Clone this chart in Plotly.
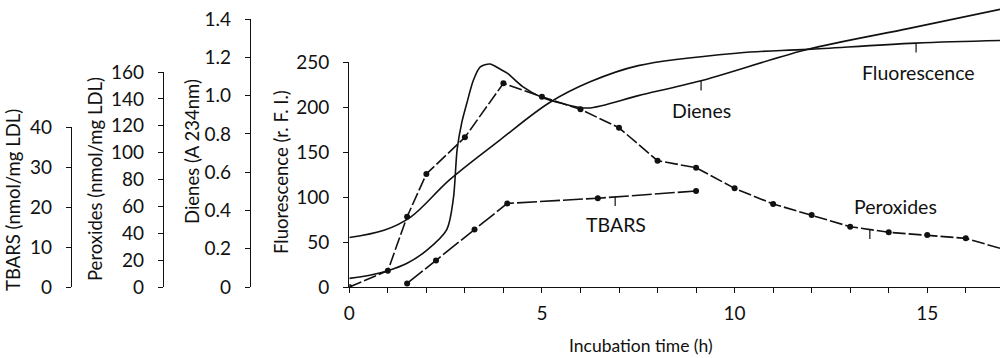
import plotly.graph_objects as go

# ---------------- data ----------------
fluor_time = [0, 0.9, 1.6, 2.6, 3.9, 5.2, 6.25, 7.5, 10.1, 11.9, 14.7, 17.0]
fluor_value = [55, 63, 78, 119, 163, 205, 228, 246, 260, 264, 271, 274]

dienes_time = [0, 0.5, 1.0, 1.5, 2.0, 2.53, 2.7, 2.8, 2.92, 3.05, 3.22, 3.4, 3.65,
               3.9, 4.1, 4.5, 5.0, 5.5, 6.2, 7.5, 9.1, 11.9, 14.5, 17.0]
dienes_value = [0.045, 0.06, 0.085, 0.124, 0.19, 0.30, 0.46, 0.72, 0.86, 0.96, 1.08,
                1.15, 1.165, 1.14, 1.117, 1.047, 0.99, 0.96, 0.935, 1.0, 1.076, 1.242,
                1.35, 1.455]

perox_time = [0, 1, 1.5, 2, 3, 4, 5, 6, 7, 8, 9, 10, 11, 12, 13, 14, 15, 16, 17]
perox_value = [0, 12.1, 52.3, 84.1, 111.4, 151.6, 141.6, 132.2, 118.5, 94.0, 88.8,
               73.4, 61.8, 53.6, 44.9, 40.7, 38.7, 36.2, 27.9]

tbars_time = [1.5, 2.25, 3.25, 4.1, 6.45, 9.0]
tbars_value = [0.9, 6.6, 14.4, 20.9, 22.2, 24.0]

x_ticks = list(range(0, 17))
x_labels = [str(v) if v % 5 == 0 else "" for v in x_ticks]
fluor_ticks = [0, 50, 100, 150, 200, 250]
dienes_ticks = [0, 0.2, 0.4, 0.6, 0.8, 1.0, 1.2, 1.4]
dienes_labels = ["0", "0.2", "0.4", "0.6", "0.8", "1.0", "1.2", "1.4"]
perox_ticks = [0, 20, 40, 60, 80, 100, 120, 140, 160]
tbars_ticks = [0, 10, 20, 30, 40]

# ---------------- layout geometry (pixels) ----------------
W, H = 1000, 358
X0_PX, PX_PER_H, BASE_PX = 349.3, 38.53, 287.0
FL_PPU, DI_PPU, PE_PPU, TB_PPU = 0.9, 191.4, 1.34375, 4.0


def ypap(p):
    return 1 - p / H


y0 = ypap(BASE_PX)
FONT = "Lato"
BLACK = "#111111"

common_axis = dict(showline=True, linecolor=BLACK, linewidth=1.4, ticks="outside",
                   ticklen=5, tickwidth=1.3, tickcolor=BLACK, showgrid=False,
                   zeroline=False, tickfont=dict(family=FONT, size=19, color=BLACK),
                   ticklabelstandoff=10, fixedrange=True, automargin=False)

fig = go.Figure()

# invisible companions so the display axes exist
fig.add_trace(go.Scatter(x=fluor_time, y=fluor_value, xaxis="x", yaxis="y", mode="lines",
                         opacity=0, hoverinfo="skip", showlegend=False))
fig.add_trace(go.Scatter(x=dienes_time, y=dienes_value, xaxis="x", yaxis="y2", mode="lines",
                         opacity=0, hoverinfo="skip", showlegend=False))

line_style = dict(color=BLACK, width=1.6)
fig.add_trace(go.Scatter(x=fluor_time, y=fluor_value, xaxis="x", yaxis="y5", mode="lines",
                         line=dict(shape="spline", smoothing=1.0, **line_style),
                         showlegend=False, name="Fluorescence"))
fig.add_trace(go.Scatter(x=dienes_time, y=dienes_value, xaxis="x", yaxis="y6", mode="lines",
                         line=dict(shape="spline", smoothing=0.8, **line_style),
                         showlegend=False, name="Dienes"))
fig.add_trace(go.Scatter(x=perox_time, y=perox_value, xaxis="x", yaxis="y3",
                         mode="lines+markers",
                         line=dict(dash="13px,3px", **line_style),
                         marker=dict(size=6, color=BLACK),
                         showlegend=False, name="Peroxides"))
fig.add_trace(go.Scatter(x=tbars_time, y=tbars_value, xaxis="x", yaxis="y4",
                         mode="lines+markers",
                         line=dict(dash="20px,3px", **line_style),
                         marker=dict(size=6, color=BLACK),
                         showlegend=False, name="TBARS"))

x_range = [0, (W - X0_PX) / PX_PER_H]

fig.update_layout(
    template="none",
    width=W, height=H, autosize=False,
    margin=dict(l=0, r=0, t=0, b=0, pad=0),
    paper_bgcolor="white", plot_bgcolor="rgba(0,0,0,0)",
    font=dict(family=FONT, color=BLACK),
    xaxis=dict(domain=[X0_PX / W, 1], range=x_range, anchor="y",
               tickvals=x_ticks, ticktext=x_labels, **{**common_axis, "ticklabelstandoff": 4}),
    yaxis=dict(domain=[y0, ypap(BASE_PX - 250 * FL_PPU)], range=[0, 250], anchor="x",
               tickvals=fluor_ticks, **common_axis),
    yaxis2=dict(domain=[y0, ypap(BASE_PX - 1.4 * DI_PPU)], range=[0, 1.4], anchor="free",
                position=250 / W, tickvals=dienes_ticks, ticktext=dienes_labels, **common_axis),
    yaxis3=dict(domain=[y0, ypap(BASE_PX - 160 * PE_PPU)], range=[0, 160], anchor="free",
                position=163 / W, tickvals=perox_ticks, **common_axis),
    yaxis4=dict(domain=[y0, ypap(BASE_PX - 40 * TB_PPU)], range=[0, 40], anchor="free",
                position=71 / W, tickvals=tbars_ticks, **common_axis),
    yaxis5=dict(domain=[y0, 1], range=[0, BASE_PX / FL_PPU], anchor="x", visible=False,
                fixedrange=True, automargin=False),
    yaxis6=dict(range=[0, BASE_PX / DI_PPU], overlaying="y5", anchor="x", visible=False,
                fixedrange=True, automargin=False),
)

TITLE_FONT = dict(family=FONT, size=18.5, color=BLACK)
axis_titles = [
    ("TBARS (nmol/mg LDL)", 13, 200),
    ("Peroxides (nmol/mg LDL)", 95, 179),
    ("Dienes (A 234nm)", 192, 152),
    ("Fluorescence (r. F. I.)", 281, 172),
]
for text, cx, cy in axis_titles:
    fig.add_annotation(text=text, x=cx / W, y=ypap(cy), xref="paper", yref="paper",
                       textangle=-90, showarrow=False, xanchor="center", yanchor="middle",
                       font=TITLE_FONT)

fig.add_annotation(text="Incubation time (h)", x=641 / W, y=ypap(345), xref="paper",
                   yref="paper", showarrow=False, xanchor="center", yanchor="middle",
                   font=dict(family=FONT, size=17.5, color=BLACK))

# series labels
series_labels = [
    ("Fluorescence", 918, 72),
    ("Dienes", 701, 110),
    ("Peroxides", 895, 206),
    ("TBARS", 616, 224),
]
for text, cx, cy in series_labels:
    fig.add_annotation(text=text, x=cx / W, y=ypap(cy), xref="paper", yref="paper",
                       showarrow=False, xanchor="center", yanchor="middle",
                       font=dict(family=FONT, size=19.5, color=BLACK))

# leader ticks from the labels to their curves
leaders = [
    (14.71, 271, "y5"),
    (9.13, 1.076, "y6"),
    (13.51, 42.8, "y3"),
    (6.90, 22.6, "y4"),
]
for lx, ly, yr in leaders:
    fig.add_annotation(text="", x=lx, y=ly, xref="x", yref=yr, showarrow=True,
                       arrowhead=0, arrowwidth=1.2, arrowcolor=BLACK, ax=0, ay=11,
                       standoff=0, startstandoff=0)

fig.write_html("out.html", config={"displayModeBar": False},
               post_script="document.body.style.margin='0';document.body.style.overflow='hidden';")
